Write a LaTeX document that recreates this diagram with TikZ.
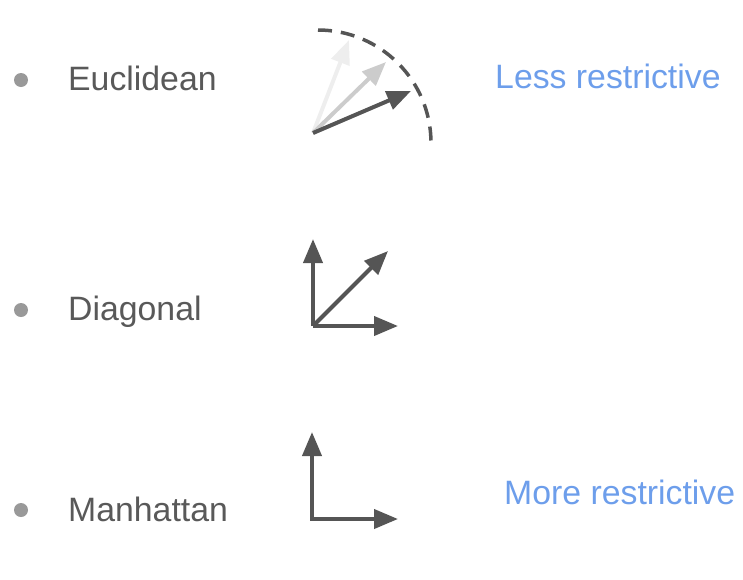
\documentclass[tikz,border=0pt]{standalone}
\usepackage{fontspec}
\setmainfont{Liberation Sans}
\usetikzlibrary{arrows.meta}
\definecolor{txt}{HTML}{595959}
\definecolor{blu}{HTML}{6D9EEB}
\definecolor{bul}{HTML}{999999}
\definecolor{dk}{HTML}{555555}
\definecolor{md}{HTML}{CCCCCC}
\definecolor{lt}{HTML}{EEEEEE}
\tikzset{
  lbl/.style={anchor=base west, inner sep=0pt, text=txt, font=\fontsize{33.8}{40}\selectfont},
  side/.style={anchor=base west, inner sep=0pt, text=blu, font=\fontsize{33.8}{40}\selectfont},
  bulletdot/.style={circle, fill=bul, minimum size=14pt, inner sep=0pt},
  vec/.style={line width=4pt, -{Triangle[length=24pt,width=19pt]}, shorten <=0pt},
}
\begin{document}
\begin{tikzpicture}[x=1pt,y=-1pt]
\useasboundingbox (0,0) rectangle (743,579);
% bullets
\node[bulletdot] (b1) at (21,80) {};
\node[bulletdot] (b2) at (21,310) {};
\node[bulletdot] (b3) at (21,510) {};
% labels
\node[lbl] (t1) at (68,90) {Euclidean};
\node[lbl] (t2) at (68,320) {Diagonal};
\node[lbl] (t3) at (68,521) {Manhattan};
\node[side] (s1) at (495,88) {Less restrictive};
\node[side] (s2) at (504,504) {More restrictive};
% Euclidean
\coordinate (e0) at (313,133);
\coordinate (e1) at (349,40);
\coordinate (e2) at (386,62);
\coordinate (e3) at (411,91);
\draw[vec, lt] (e0) -- (e1);
\draw[vec, md] (e0) -- (e2);
\draw[vec, dk] (e0) -- (e3);
\draw[dk, line width=3.5pt, dash pattern=on 14pt off 9pt] (318,30) arc[start angle=-90, end angle=0, radius=113];
% Diagonal
\coordinate (d0) at (313,326);
\coordinate (d1) at (313,239);
\coordinate (d2) at (398,326);
\coordinate (d3) at (388,251);
\draw[vec, dk] (d0) -- (d1);
\draw[vec, dk] (d0) -- (d2);
\draw[vec, dk] (d0) -- (d3);
% Manhattan
\coordinate (m0) at (312,519);
\coordinate (m1) at (312,432);
\coordinate (m2) at (398,519);
\draw[vec, dk] (m0) -- (m1);
\draw[vec, dk] ([xshift=-2pt]m0) -- (m2);
\end{tikzpicture}
\end{document}
